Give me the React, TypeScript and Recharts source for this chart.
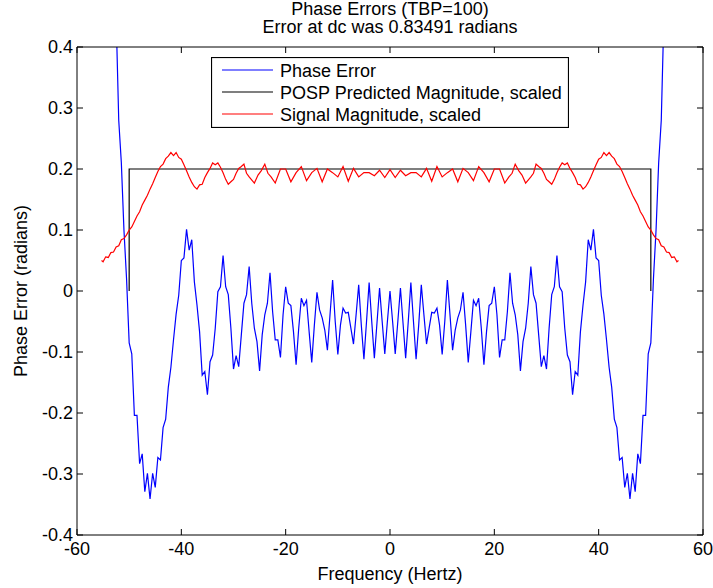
import { Legend, Line, LineChart, XAxis, YAxis } from 'recharts';

const FONT = '"Liberation Sans", Arial, Helvetica, sans-serif';

// phase error (radians) sampled every 0.5 Hz; values above 0.4 are clipped by the axes
const errFreq = [
  -52.5, -52, -51.5, -51, -50.5, -50, -49.5, -49, -48.5, -48, -47.5, -47, -46.5, -46, -45.5, -45, -44.5, -44,
  -43.5, -43, -42.5, -42, -41.5, -41, -40.5, -40, -39.5, -39, -38.5, -38, -37.5, -37, -36.5, -36, -35.5, -35,
  -34.5, -34, -33.5, -33, -32.5, -32, -31.5, -31, -30.5, -30, -29.5, -29, -28.5, -28, -27.5, -27, -26.5, -26,
  -25.5, -25, -24.5, -24, -23.5, -23, -22.5, -22, -21.5, -21, -20.5, -20, -19.5, -19, -18.5, -18, -17.5, -17,
  -16.5, -16, -15.5, -15, -14.5, -14, -13.5, -13, -12.5, -12, -11.5, -11, -10.5, -10, -9.5, -9, -8.5, -8,
  -7.5, -7, -6.5, -6, -5.5, -5, -4.5, -4, -3.5, -3, -2.5, -2, -1.5, -1, -0.5, 0,
  0.5, 1, 1.5, 2, 2.5, 3, 3.5, 4, 4.5, 5, 5.5, 6, 6.5, 7, 7.5, 8, 8.5, 9, 9.5, 10, 10.5, 11, 11.5, 12,
  12.5, 13, 13.5, 14, 14.5, 15, 15.5, 16, 16.5, 17, 17.5, 18, 18.5, 19, 19.5, 20, 20.5, 21, 21.5, 22,
  22.5, 23, 23.5, 24, 24.5, 25, 25.5, 26, 26.5, 27, 27.5, 28, 28.5, 29, 29.5, 30, 30.5, 31, 31.5, 32,
  32.5, 33, 33.5, 34, 34.5, 35, 35.5, 36, 36.5, 37, 37.5, 38, 38.5, 39, 39.5, 40, 40.5, 41, 41.5, 42,
  42.5, 43, 43.5, 44, 44.5, 45, 45.5, 46, 46.5, 47, 47.5, 48, 48.5, 49, 49.5, 50, 50.5, 51, 51.5, 52, 52.5,
];
const phaseErr = [
  0.45, 0.28, 0.21, 0.1, 0.02, -0.085, -0.103, -0.204, -0.204, -0.283, -0.267, -0.329, -0.299, -0.341, -0.299, -0.322, -0.273, -0.277,
  -0.224, -0.21, -0.158, -0.125, -0.08, -0.038, -0.007, 0.05, 0.054, 0.101, 0.067, 0.084, 0.015, -0.023, -0.067, -0.138, -0.132, -0.17,
  -0.116, -0.105, -0.061, -0.001, 0.007, 0.058, 0.007, -0.006, -0.061, -0.128, -0.106, -0.124, -0.072, -0.02, -0.006, 0.04, -0.02, -0.061,
  -0.083, -0.131, -0.072, -0.039, -0.02, 0.03, -0.034, -0.08, -0.08, -0.109, -0.039, 0.007, -0.02, -0.024, -0.067, -0.121, -0.061, -0.012,
  -0.024, -0.015, -0.067, -0.117, -0.056, -0.002, -0.031, -0.044, -0.064, -0.097, -0.039, 0.018, -0.05, -0.104, -0.056, -0.028, -0.036, -0.035,
  -0.061, -0.087, -0.039, 0.01, -0.056, -0.112, -0.05, 0.014, -0.05, -0.11, -0.053, 0.005, -0.05, -0.103, -0.05, 0,
  -0.05, -0.103, -0.05, 0.005, -0.053, -0.11, -0.05, 0.014, -0.05, -0.112, -0.056, 0.01, -0.039, -0.087, -0.061, -0.035, -0.036, -0.028, -0.056, -0.104, -0.05, 0.018, -0.039, -0.097,
  -0.064, -0.044, -0.031, -0.002, -0.056, -0.117, -0.067, -0.015, -0.024, -0.012, -0.061, -0.121, -0.067, -0.024, -0.02, 0.007, -0.039, -0.109, -0.08, -0.08,
  -0.034, 0.03, -0.02, -0.039, -0.072, -0.131, -0.083, -0.061, -0.02, 0.04, -0.006, -0.02, -0.072, -0.124, -0.106, -0.128, -0.061, -0.006, 0.007, 0.058,
  0.007, -0.001, -0.061, -0.105, -0.116, -0.17, -0.132, -0.138, -0.067, -0.023, 0.015, 0.084, 0.067, 0.101, 0.054, 0.05, -0.007, -0.038, -0.08, -0.125,
  -0.158, -0.21, -0.224, -0.277, -0.273, -0.322, -0.299, -0.341, -0.299, -0.329, -0.267, -0.283, -0.204, -0.204, -0.103, -0.085, 0.02, 0.1, 0.21, 0.28, 0.45,
];

// POSP predicted magnitude (scaled) – a flat top between the band edges
const pospFreq = [-50, -50, 50, 50];
const pospMag = [0, 0.2, 0.2, 0];

// signal magnitude (scaled), vertices
const sigFreq = [
  -55.3, -55, -54.5, -54, -53.5, -53, -52.5, -52, -51.5, -51, -50.5, -50, -49.5, -49, -48.5, -48, -47.5, -47, -46.5, -46,
  -45.5, -45, -44.5, -44, -43.5, -43, -42.5, -42, -41.5, -41, -40.5, -40, -39.5, -39, -38.5, -38, -37.5, -37, -36.5, -36,
  -35.5, -35, -34.5, -34, -33.5, -33, -32.5, -32, -31.5, -31, -30.5, -30, -29.5, -29, -28.5, -28, -27.5, -27, -26, -25.3,
  -24.7, -24, -23.4, -22.8, -22, -21, -20, -19, -18, -17, -16, -15, -14, -13, -12, -11, -10, -9, -8, -7, -6, -5, -4, -3, -2, -1, 0,
  1, 2, 3, 4, 5, 6, 7, 8, 9, 10, 11, 12, 13, 14, 15, 16, 17, 18, 19, 20, 21, 22, 22.8, 23.4, 24, 24.7,
  25.3, 26, 27, 27.5, 28, 28.5, 29, 29.5, 30, 30.5, 31, 31.5, 32, 32.5, 33, 33.5, 34, 34.5, 35, 35.5,
  36, 36.5, 37, 37.5, 38, 38.5, 39, 39.5, 40, 40.5, 41, 41.5, 42, 42.5, 43, 43.5, 44, 44.5, 45, 45.5,
  46, 46.5, 47, 47.5, 48, 48.5, 49, 49.5, 50, 50.5, 51, 51.5, 52, 52.5, 53, 53.5, 54, 54.5, 55, 55.3,
];
const sigMag = [
  0.05, 0.048, 0.056, 0.055, 0.063, 0.064, 0.072, 0.074, 0.084, 0.086, 0.092, 0.1, 0.105, 0.114, 0.123, 0.13, 0.141, 0.149, 0.157, 0.167,
  0.176, 0.186, 0.196, 0.204, 0.208, 0.217, 0.221, 0.227, 0.222, 0.227, 0.219, 0.216, 0.207, 0.197, 0.187, 0.178, 0.171, 0.167, 0.174, 0.175,
  0.186, 0.194, 0.201, 0.21, 0.207, 0.21, 0.203, 0.194, 0.183, 0.175, 0.179, 0.183, 0.193, 0.201, 0.204, 0.208, 0.193, 0.187, 0.177, 0.19,
  0.197, 0.208, 0.193, 0.187, 0.177, 0.2, 0.2, 0.179, 0.194, 0.204, 0.181, 0.194, 0.201, 0.179, 0.2, 0.194, 0.187, 0.204, 0.18, 0.201, 0.187, 0.194, 0.194, 0.189, 0.198, 0.186, 0.199,
  0.186, 0.198, 0.189, 0.194, 0.194, 0.187, 0.201, 0.18, 0.204, 0.187, 0.194, 0.2, 0.179, 0.201, 0.194, 0.181, 0.204, 0.194, 0.179, 0.2, 0.2, 0.177, 0.187, 0.193, 0.208, 0.197,
  0.19, 0.177, 0.187, 0.193, 0.208, 0.204, 0.201, 0.193, 0.183, 0.179, 0.175, 0.183, 0.194, 0.203, 0.21, 0.207, 0.21, 0.201, 0.194, 0.186,
  0.175, 0.174, 0.167, 0.171, 0.178, 0.187, 0.197, 0.207, 0.216, 0.219, 0.227, 0.222, 0.227, 0.221, 0.217, 0.208, 0.204, 0.196, 0.186, 0.176,
  0.167, 0.157, 0.149, 0.141, 0.13, 0.123, 0.114, 0.105, 0.1, 0.092, 0.086, 0.084, 0.074, 0.072, 0.064, 0.063, 0.055, 0.056, 0.048, 0.05,
];

const seriesNames = ['Phase Error', 'POSP Predicted Magnitude, scaled', 'Signal Magnitude, scaled'];

const xTicks = [-60, -40, -20, 0, 20, 40, 60];
const yTicks = [-0.4, -0.3, -0.2, -0.1, 0, 0.1, 0.2, 0.3, 0.4];

const toPoints = (xs: number[], ys: number[]) => xs.map((f, i) => ({ f, v: ys[i] }));

const errData = toPoints(errFreq, phaseErr);
const pospData = toPoints(pospFreq, pospMag);
const sigData = toPoints(sigFreq, sigMag);

const fmtX = (v: number) => String(v);
const fmtY = (v: number) => (Math.abs(v) < 1e-9 ? '0' : v.toFixed(1));
const blank = () => '';

const tickStyle = { fill: '#000', fontSize: 18, fontFamily: FONT };

function LegendBox({ payload }: any) {
  // keep the order in which the series were plotted
  const items = [...(payload ?? [])].sort(
    (a: any, b: any) => seriesNames.indexOf(a.value) - seriesNames.indexOf(b.value),
  );
  return (
    <svg width={358} height={71} style={{ display: 'block' }}>
      <rect x={0.5} y={0.5} width={357} height={70} fill="#fff" stroke="#000" strokeWidth={1.2} />
      {items.map((item: any, i: number) => {
        const y = 13 + i * 22;
        return (
          <g key={item.value}>
            <line x1={11} x2={62} y1={y} y2={y} stroke={item.color} strokeWidth={1.2} />
            <text x={69} y={y + 6.5} fontSize={18} fontFamily={FONT} fill="#000">
              {item.value}
            </text>
          </g>
        );
      })}
    </svg>
  );
}

export default function App() {
  return (
    <div style={{ position: 'absolute', left: 0, top: 0, width: 713, height: 588, background: '#fff' }}>
      <div
        style={{
          position: 'absolute',
          left: 77,
          top: 0,
          width: 626,
          textAlign: 'center',
          fontFamily: FONT,
          fontSize: 18,
          lineHeight: '18px',
          color: '#000',
          zIndex: 1,
        }}
      >
        <div>Phase Errors (TBP=100)</div>
        <div>Error at dc was 0.83491 radians</div>
      </div>
      <LineChart width={713} height={588} margin={{ top: 42, right: 5, bottom: 23, left: 17 }} style={{ fontFamily: FONT }}>
        <XAxis
          xAxisId="b"
          type="number"
          dataKey="f"
          domain={[-60, 60]}
          ticks={xTicks}
          allowDataOverflow
          height={30}
          stroke="#000"
          tickSize={-6}
          tickMargin={13}
          tick={tickStyle}
          tickFormatter={fmtX}
          label={{ value: 'Frequency (Hertz)', position: 'bottom', offset: 2, fill: '#000', fontSize: 18 }}
        />
        <XAxis
          xAxisId="t"
          orientation="top"
          type="number"
          dataKey="f"
          domain={[-60, 60]}
          ticks={xTicks}
          allowDataOverflow
          height={5}
          stroke="#000"
          tickSize={-6}
          tickFormatter={blank}
        />
        <YAxis
          yAxisId="l"
          type="number"
          domain={[-0.4, 0.4]}
          ticks={yTicks}
          allowDataOverflow
          width={60}
          stroke="#000"
          tickSize={-6}
          tickMargin={10}
          tick={tickStyle}
          tickFormatter={fmtY}
          label={{
            value: 'Phase Error (radians)',
            angle: -90,
            position: 'insideLeft',
            offset: 4,
            fill: '#000',
            fontSize: 18,
            style: { textAnchor: 'middle' },
          }}
        />
        <YAxis
          yAxisId="r"
          orientation="right"
          type="number"
          domain={[-0.4, 0.4]}
          ticks={yTicks}
          allowDataOverflow
          width={5}
          stroke="#000"
          tickSize={-6}
          tickFormatter={blank}
        />
        <Legend
          layout="vertical"
          align="center"
          verticalAlign="middle"
          content={<LegendBox />}
          wrapperStyle={{ left: 211, top: 57, width: 358, height: 71 }}
        />
        <Line
          xAxisId="b"
          yAxisId="l"
          data={errData}
          dataKey="v"
          name={seriesNames[0]}
          stroke="#0000ff"
          strokeWidth={1.2}
          dot={false}
          activeDot={false}
          isAnimationActive={false}
        />
        <Line
          xAxisId="b"
          yAxisId="l"
          data={pospData}
          dataKey="v"
          name={seriesNames[1]}
          stroke="#000"
          strokeWidth={1.2}
          dot={false}
          activeDot={false}
          isAnimationActive={false}
        />
        <Line
          xAxisId="b"
          yAxisId="l"
          data={sigData}
          dataKey="v"
          name={seriesNames[2]}
          stroke="#ff0000"
          strokeWidth={1.2}
          dot={false}
          activeDot={false}
          isAnimationActive={false}
        />
      </LineChart>
    </div>
  );
}
